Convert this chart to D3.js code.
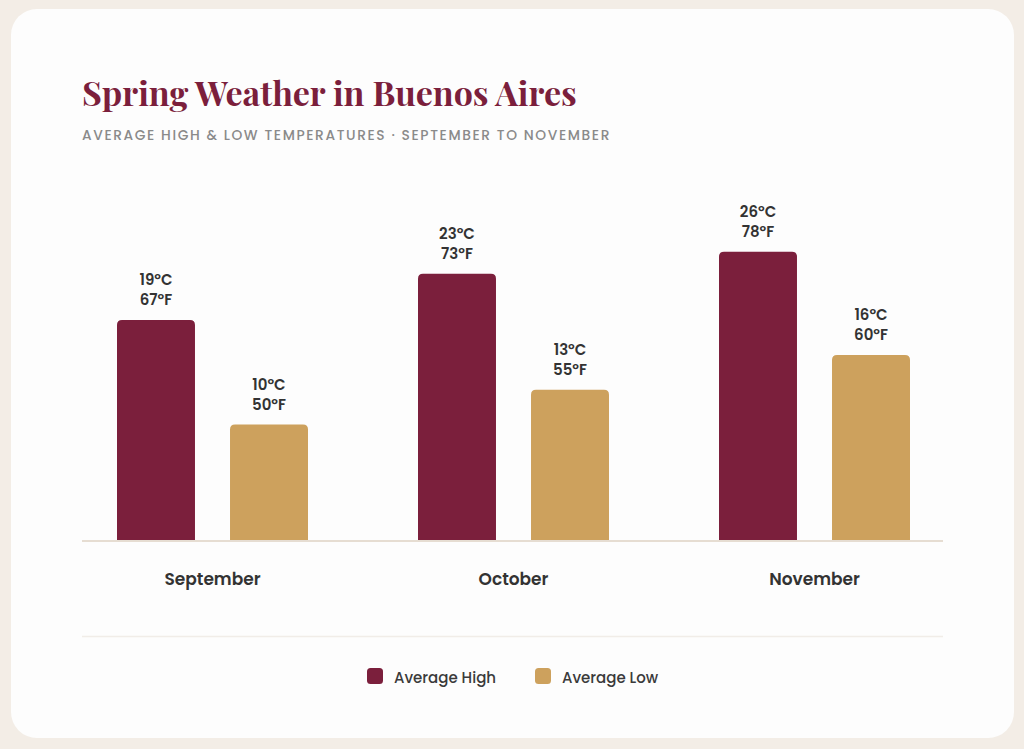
<!DOCTYPE html>
<html>
<head>
<meta charset="utf-8">
<script src="https://cdn.jsdelivr.net/npm/d3@7/dist/d3.min.js"></script>
<style>
  html, body { margin: 0; padding: 0; background: #f3ede6; }
  svg { display: block; }
</style>
</head>
<body>
<svg id="chart" width="1024" height="749"></svg>
<script>
// ---- data ----
const months = ["September", "October", "November"];
const series = ["Average High", "Average Low"];
const highBar = [19, 23, 24.9];   // bar heights in °C as drawn
const lowBar = [10, 13, 16];
const highC = [19, 23, 26];
const highF = [67, 73, 78];
const lowC = [10, 13, 16];
const lowF = [50, 55, 60];
const colors = ["#7b1f3c", "#cda15d"];

const title = "Spring Weather in Buenos Aires";
const subtitle = "AVERAGE HIGH & LOW TEMPERATURES · SEPTEMBER TO NOVEMBER";

const sans = "Poppins, Inter, 'Open Sans', sans-serif";
const serif = "'Playfair Display', 'Liberation Serif', 'DejaVu Serif', serif";

const svg = d3.select("#chart");

// card
svg.append("rect").attr("x", 11).attr("y", 9).attr("width", 1003).attr("height", 729)
  .attr("rx", 26).attr("fill", "#fdfdfd");

// title
const t = svg.append("text").attr("x", 82).attr("y", 106)
  .attr("font-family", serif).attr("font-weight", 700).attr("font-size", 36)
  .attr("fill", "#7b1f3c").text(title);
const tw = t.node().getComputedTextLength();
t.attr("font-size", 36 * 495 / tw);

const st = svg.append("text").attr("x", 82).attr("y", 140)
  .attr("font-family", sans).attr("font-weight", 500).attr("font-size", 13.8)
  .attr("letter-spacing", 1.6).attr("fill", "#8a8a8a").text(subtitle);
const sw = st.node().getComputedTextLength();
st.attr("letter-spacing", 1.6 + (529 - sw) / subtitle.length);

// scales
const baseY = 540.5;
const x0 = d3.scaleBand().domain(months).range([62, 965]).padding(0);
const x1 = d3.scaleBand().domain(series).range([55, 246]).paddingInner(0.31).paddingOuter(0);
const y = d3.scaleLinear().domain([0, 30]).range([baseY, baseY - 348]);

const rows = months.map((m, i) => ({
  month: m,
  values: [
    { s: series[0], v: highBar[i], c: highC[i], f: highF[i] },
    { s: series[1], v: lowBar[i], c: lowC[i], f: lowF[i] }
  ]
}));

// rounded-top bar path
function barPath(x, yTop, w, h, r) {
  r = Math.min(r, h, w / 2);
  return `M${x},${yTop + h}V${yTop + r}Q${x},${yTop} ${x + r},${yTop}H${x + w - r}Q${x + w},${yTop} ${x + w},${yTop + r}V${yTop + h}Z`;
}

const g = svg.selectAll("g.month").data(rows).join("g")
  .attr("class", "month")
  .attr("transform", d => `translate(${x0(d.month)},0)`);

g.selectAll("path.bar").data(d => d.values).join("path")
  .attr("class", "bar")
  .attr("fill", (d, i) => colors[i])
  .attr("d", d => barPath(x1(d.s), y(d.v), x1.bandwidth(), baseY - y(d.v), 5));

const lbl = g.selectAll("g.lbl").data(d => d.values).join("g").attr("class", "lbl");
lbl.append("text")
  .attr("x", d => x1(d.s) + x1.bandwidth() / 2)
  .attr("y", d => y(d.v) - 35)
  .attr("text-anchor", "middle").attr("font-family", sans).attr("font-weight", 600)
  .attr("font-size", 15).attr("fill", "#333").text(d => `${d.c}°C`);
lbl.append("text")
  .attr("x", d => x1(d.s) + x1.bandwidth() / 2)
  .attr("y", d => y(d.v) - 15)
  .attr("text-anchor", "middle").attr("font-family", sans).attr("font-weight", 600)
  .attr("font-size", 15).attr("fill", "#333").text(d => `${d.f}°F`);

// baseline axis
svg.append("line").attr("x1", 82).attr("x2", 943).attr("y1", baseY + 0.5).attr("y2", baseY + 0.5)
  .attr("stroke", "#e6ddd2").attr("stroke-width", 2);

// month labels
const xAxis = d3.axisBottom(x0).tickSize(0).tickPadding(0);
const ax = svg.append("g").attr("transform", `translate(${(x1(series[0]) + x1.range()[1]) / 2 - x0.bandwidth() / 2},${baseY})`).call(xAxis);
ax.select(".domain").remove();
ax.selectAll("text").attr("dy", null).attr("y", 44)
  .attr("font-family", sans).attr("font-weight", 600).attr("font-size", 17).attr("fill", "#333");

// divider
svg.append("line").attr("x1", 82).attr("x2", 943).attr("y1", 636.5).attr("y2", 636.5)
  .attr("stroke", "#f1ede8").attr("stroke-width", 1.5);

// legend
const legendX = [367, 535];
const lg = svg.selectAll("g.legend").data(series).join("g").attr("class", "legend")
  .attr("transform", (d, i) => `translate(${legendX[i]},668)`);
lg.append("rect").attr("width", 16).attr("height", 16).attr("rx", 3.5).attr("fill", (d, i) => colors[i]);
lg.append("text").attr("x", 27).attr("y", 14.5)
  .attr("font-family", sans).attr("font-weight", 500).attr("font-size", 15).attr("fill", "#3a3a3a")
  .text(d => d);
</script>
</body>
</html>
